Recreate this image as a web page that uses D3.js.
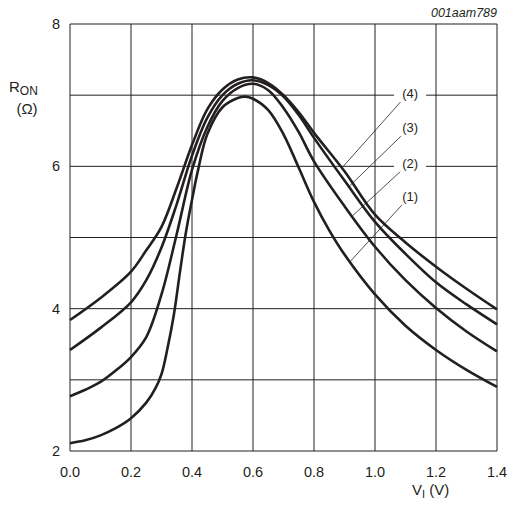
<!DOCTYPE html>
<html>
<head>
<meta charset="utf-8">
<script src="https://cdn.jsdelivr.net/npm/d3@7"></script>
<style>
  body { margin: 0; background: #fff; }
  text { font-family: "Liberation Sans", Arial, sans-serif; fill: #231f20; }
</style>
</head>
<body>
<svg width="511" height="507"></svg>
<script>
// curve data, R_ON (ohm) vs V_I (V)
var curve1 = [[0,2.11],[0.05,2.15],[0.1,2.22],[0.15,2.32],[0.2,2.46],[0.25,2.68],[0.28,2.88],[0.3,3.08],[0.32,3.45],[0.34,3.9],[0.36,4.5],[0.38,5.07],[0.4,5.53],[0.42,5.95],[0.45,6.45],[0.5,6.83],[0.55,6.96],[0.575,6.98],[0.6,6.95],[0.65,6.79],[0.7,6.45],[0.75,5.98],[0.8,5.5],[0.85,5.1],[0.9,4.76],[1.0,4.2],[1.1,3.76],[1.2,3.42],[1.3,3.14],[1.4,2.9]];
var curve2 = [[0,2.77],[0.05,2.86],[0.1,2.97],[0.15,3.13],[0.2,3.32],[0.25,3.6],[0.3,4.2],[0.35,5.05],[0.4,5.95],[0.45,6.55],[0.5,6.92],[0.55,7.1],[0.6,7.16],[0.65,7.07],[0.7,6.82],[0.75,6.48],[0.8,6.07],[0.9,5.44],[1.0,4.87],[1.1,4.4],[1.2,4.01],[1.3,3.68],[1.4,3.4]];
var curve3 = [[0,3.42],[0.1,3.73],[0.2,4.09],[0.25,4.4],[0.3,4.86],[0.35,5.47],[0.4,6.15],[0.45,6.68],[0.5,7.0],[0.55,7.16],[0.6,7.21],[0.65,7.14],[0.7,6.98],[0.75,6.72],[0.8,6.4],[0.9,5.8],[1.0,5.22],[1.1,4.77],[1.2,4.37],[1.3,4.06],[1.4,3.78]];
var curve4 = [[0,3.84],[0.1,4.15],[0.2,4.52],[0.25,4.82],[0.3,5.15],[0.35,5.7],[0.4,6.3],[0.45,6.8],[0.5,7.08],[0.55,7.22],[0.6,7.25],[0.65,7.17],[0.7,7.0],[0.75,6.76],[0.8,6.47],[0.9,5.93],[1.0,5.32],[1.1,4.93],[1.2,4.59],[1.3,4.28],[1.4,3.99]];
var curves = [curve1, curve2, curve3, curve4];

var xTicks = [0, 0.2, 0.4, 0.6, 0.8, 1.0, 1.2, 1.4];
var yGrid = [2, 3, 4, 5, 6, 7, 8];
var yTicks = [2, 4, 6, 8];

// curve labels: text, label position, leader start and end (on curve)
var labelNames = ["(1)", "(2)", "(3)", "(4)"];
var labelPos = [[1.115, 5.58], [1.115, 6.05], [1.115, 6.55], [1.115, 7.03]];
var leaderStart = [[1.089, 5.46], [1.089, 5.95], [1.089, 6.44], [1.089, 6.93]];
var leaderEnd = [[0.918, 4.66], [0.925, 5.3], [0.911, 5.7], [0.892, 5.98]];

var svg = d3.select("svg");
var x = d3.scaleLinear().domain([0, 1.4]).range([70, 497]);
var y = d3.scaleLinear().domain([2, 8]).range([451, 24]);

// grid
svg.selectAll(".vg").data(xTicks).enter().append("line")
  .attr("x1", d => x(d)).attr("x2", d => x(d))
  .attr("y1", y(2)).attr("y2", y(8))
  .attr("stroke", "#231f20").attr("stroke-width", 1);
svg.selectAll(".hg").data(yGrid).enter().append("line")
  .attr("x1", x(0)).attr("x2", x(1.4))
  .attr("y1", d => y(d)).attr("y2", d => y(d))
  .attr("stroke", "#231f20").attr("stroke-width", 1);

// tick labels
svg.selectAll(".xt").data(xTicks).enter().append("text")
  .attr("x", d => x(d)).attr("y", 477)
  .attr("text-anchor", "middle").attr("font-size", 14.5)
  .text(d => d.toFixed(1));
svg.selectAll(".yt").data(yTicks).enter().append("text")
  .attr("x", 60).attr("y", d => y(d) + 5)
  .attr("text-anchor", "end").attr("font-size", 14.5)
  .text(d => d);

// curves
var line = d3.line().x(d => x(d[0])).y(d => y(d[1])).curve(d3.curveCatmullRom.alpha(0.5));
svg.selectAll(".curve").data(curves).enter().append("path")
  .attr("d", line)
  .attr("fill", "none").attr("stroke", "#231f20").attr("stroke-width", 2.6);

// leaders
labelNames.forEach(function(n, i) {
  svg.append("line")
    .attr("x1", x(leaderStart[i][0])).attr("y1", y(leaderStart[i][1]))
    .attr("x2", x(leaderEnd[i][0])).attr("y2", y(leaderEnd[i][1]))
    .attr("stroke", "#231f20").attr("stroke-width", 0.8);
  svg.append("rect")
    .attr("x", x(labelPos[i][0]) - 16).attr("y", y(labelPos[i][1]) - 9)
    .attr("width", 32).attr("height", 18).attr("fill", "#fff");
  svg.append("text")
    .attr("x", x(labelPos[i][0])).attr("y", y(labelPos[i][1]) + 5)
    .attr("text-anchor", "middle").attr("font-size", 13)
    .text(n);
});

// axis titles
var yt = svg.append("text").attr("x", 9).attr("y", 92).attr("font-size", 15);
yt.append("tspan").text("R");
yt.append("tspan").attr("font-size", 12).attr("dy", 3).text("ON");
svg.append("text").attr("x", 27).attr("y", 114).attr("text-anchor", "middle")
  .attr("font-size", 15).text("(Ω)");

var xt = svg.append("text").attr("x", 412).attr("y", 495).attr("font-size", 15);
xt.append("tspan").text("V");
xt.append("tspan").attr("font-size", 11).attr("dy", 3).text("I");
xt.append("tspan").attr("dy", -3).text(" (V)");

svg.append("text").attr("x", 497).attr("y", 17).attr("text-anchor", "end")
  .attr("font-size", 12.5).attr("font-style", "italic").text("001aam789");
</script>
</body>
</html>
